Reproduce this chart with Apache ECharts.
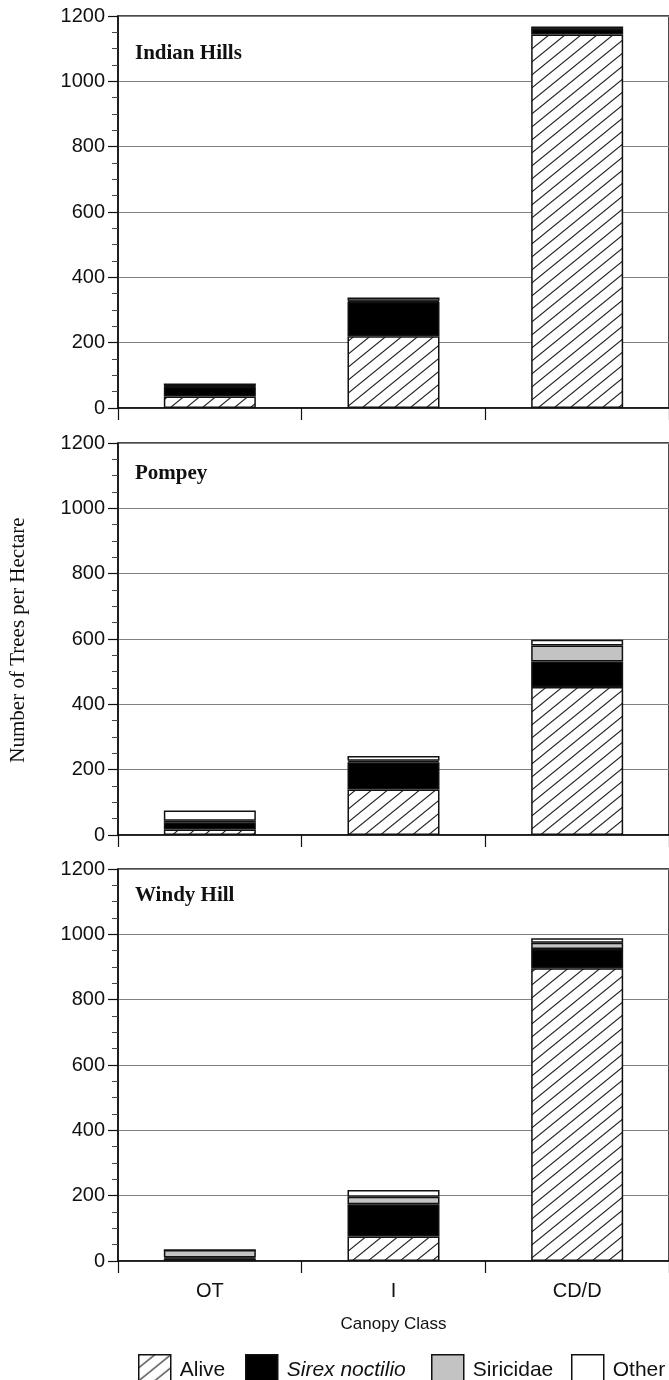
<!DOCTYPE html>
<html>
<head>
<meta charset="utf-8">
<script src="https://cdn.jsdelivr.net/npm/echarts@6/dist/echarts.min.js"></script>
<style>
html,body{margin:0;padding:0;background:#fff;}
#chart{width:669px;height:1380px;}
</style>
</head>
<body>
<div id="chart"></div>
<script>
// ---- data ----
const categories = ['OT', 'I', 'CD/D'];
const seriesNames = ['Alive', 'Sirex noctilio', 'Siricidae', 'Other'];
const panelTitles = ['Indian Hills', 'Pompey', 'Windy Hill'];
const yTickValues = [0, 200, 400, 600, 800, 1000, 1200];

// Indian Hills
const ihAlive = [35, 220, 1143];
const ihSirex = [30, 105, 17];
const ihSiricidae = [2, 3, 1];
const ihOther = [8, 10, 7];
// Pompey
const pAlive = [17, 139, 453];
const pSirex = [22, 84, 78];
const pSiricidae = [5, 4, 49];
const pOther = [31, 15, 18];
// Windy Hill
const whAlive = [8, 75, 896];
const whSirex = [3, 99, 59];
const whSiricidae = [23, 23, 19];
const whOther = [0, 20, 14];

const panelData = [
  [ihAlive, ihSirex, ihSiricidae, ihOther],
  [pAlive, pSirex, pSiricidae, pOther],
  [whAlive, whSirex, whSiricidae, whOther]
];

// ---- hatch pattern ----
function makeHatch() {
  const w = 16, h = 13;
  const c = document.createElement('canvas');
  c.width = w; c.height = h;
  const ctx = c.getContext('2d');
  ctx.fillStyle = '#ffffff';
  ctx.fillRect(0, 0, w, h);
  ctx.strokeStyle = '#222';
  ctx.lineWidth = 1.1;
  for (let k = -1; k <= 1; k++) {
    ctx.beginPath();
    ctx.moveTo(-w, 2 * h + k * h);
    ctx.lineTo(2 * w, -h + k * h);
    ctx.stroke();
  }
  return c;
}
const hatch = { image: makeHatch(), repeat: 'repeat' };
const fills = [hatch, '#000000', '#c3c3c3', '#ffffff'];

// ---- layout ----
const gridTops = [16, 443, 869];
const gridH = 392;
const gridLeft = 118;
const gridW = 552;
const sans = 'Liberation Sans, Arial, sans-serif';
const serif = 'Liberation Serif, Times New Roman, serif';

const grids = [], xAxes = [], yAxes = [], series = [];
gridTops.forEach((t, i) => {
  grids.push({
    left: gridLeft, top: t, width: gridW, height: gridH,
    show: true, borderColor: '#111', borderWidth: 1.5, backgroundColor: 'transparent'
  });
  xAxes.push({
    type: 'category', gridIndex: i, data: categories, boundaryGap: true,
    axisLine: { lineStyle: { color: '#111', width: 1.5 } },
    axisTick: { show: true, length: 12, lineStyle: { color: '#111', width: 1.2 } },
    axisLabel: { show: i === 2, fontFamily: sans, fontSize: 20, color: '#111', margin: 20 },
    name: i === 2 ? 'Canopy Class' : '',
    nameLocation: 'middle', nameGap: 55,
    nameTextStyle: { fontFamily: sans, fontSize: 17, color: '#111' }
  });
  yAxes.push({
    type: 'value', gridIndex: i, min: 0, max: 1200, interval: 200,
    axisLine: { show: true, lineStyle: { color: '#111', width: 1.5 } },
    axisTick: { show: true, length: 10, lineStyle: { color: '#111', width: 1.2 } },
    minorTick: { show: true, splitNumber: 4, length: 6, lineStyle: { color: '#444', width: 1 } },
    axisLabel: {
      fontFamily: sans, fontSize: 20, color: '#111', margin: 13,
      formatter: v => (yTickValues.indexOf(v) >= 0 ? String(v) : '')
    },
    splitLine: { show: true, lineStyle: { color: '#808080', width: 1.2 } }
  });
  seriesNames.forEach((name, s) => {
    series.push({
      name: name, type: 'bar', stack: 'panel' + i,
      xAxisIndex: i, yAxisIndex: i,
      barWidth: 92,
      data: panelData[i][s],
      itemStyle: { color: fills[s], borderColor: '#111', borderWidth: 1.5 },
      emphasis: { disabled: true },
      animation: false
    });
  });
});

const legendLefts = [133, 240, 426, 566];
const legends = seriesNames.map((n, k) => ({
  data: [n], left: legendLefts[k], top: 1349,
  itemWidth: 32, itemHeight: 30, itemGap: 0,
  icon: 'rect', selectedMode: false,
  textStyle: {
    fontFamily: sans, fontSize: 21, color: '#111',
    fontStyle: n === 'Sirex noctilio' ? 'italic' : 'normal',
    padding: [0, 0, 0, 4]
  },
  itemStyle: { borderColor: '#111', borderWidth: 1.5 }
}));

const titleY = [55, 475, 897];
const graphics = panelTitles.map((t, i) => ({
  type: 'text', left: 135, top: titleY[i] - 12,
  style: { text: t, fontFamily: serif, fontWeight: 'bold', fontSize: 21, fill: '#111' }
}));
graphics.push({
  type: 'text', x: 18, y: 640, rotation: Math.PI / 2,
  style: {
    text: 'Number of Trees per Hectare', fontFamily: serif, fontSize: 21, fill: '#111',
    align: 'center', verticalAlign: 'middle'
  }
});

const chart = echarts.init(document.getElementById('chart'), null, { renderer: 'canvas' });
chart.setOption({
  animation: false,
  backgroundColor: '#ffffff',
  grid: grids, xAxis: xAxes, yAxis: yAxes, series: series,
  legend: legends,
  graphic: graphics
});
</script>
</body>
</html>
